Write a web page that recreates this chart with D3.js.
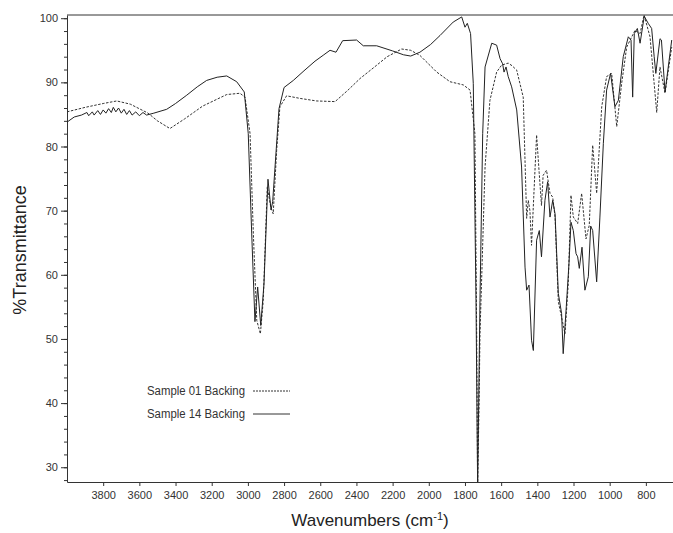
<!DOCTYPE html>
<head>
<script src="https://d3js.org/d3.v7.min.js"></script>
<meta charset="utf-8">
<style>
body { margin: 0; background: #fff; }
svg { font-family: "Liberation Sans", Arial, sans-serif; }
.axis path, .axis line { stroke: #333; }
.axis text { fill: #333; font-size: 11px; }
</style>
</head>
<body>
<svg id="chart"></svg>
<script>

// spectra (wavenumber cm-1, %T)
var wn01 = [4000,3900,3800,3725,3650,3552,3500,3431,3350,3250,3117,3044,3016,2988,2970,2951,2931,2915,2893,2874,2860,2841,2823,2786,2712,2620,2518,2450,2380,2300,2230,2150,2100,2049,1956,1883,1809,1772,1745,1735,1730,1722,1717,1689,1662,1625,1597,1561,1540,1514,1478,1459,1450,1441,1432,1420,1404,1390,1377,1368,1349,1330,1315,1302,1284,1266,1247,1229,1214,1201,1177,1155,1131,1113,1094,1072,1044,1017,989,961,934,906,878,860,832,810,777,740,722,694,657];
var t01 = [85.4,86.1,86.7,87.1,86.6,85.2,84.0,82.8,84.3,86.3,88.1,88.3,87.7,82,66.5,52.9,50.8,56,73.7,70.6,69.5,79.4,86.2,87.9,87.5,87.1,87.0,88.7,90.6,92.4,94.0,95.2,95.0,94.2,91.6,90.1,89.6,88.8,82,50,27,40,50.8,76.8,87.2,91.6,92.7,93,92.6,91.9,87.7,68.8,71.6,70,64.6,72,81.8,76,70.8,75.5,76.3,72.7,72.1,69,55.8,53.4,50.8,58.6,72.4,69,68,72.7,65.6,67.7,80.2,72.7,86.2,90.9,91.4,83.1,89.8,95.5,97.1,98.1,97.6,100.5,97.1,85.3,92.4,88.3,95.5];

var wn14 = [4000,3960,3920,3890,3880,3860,3850,3830,3815,3800,3785,3770,3755,3744,3730,3715,3700,3685,3670,3655,3640,3620,3600,3580,3560,3520,3449,3400,3338,3280,3228,3170,3117,3062,3020,2998,2979,2961,2946,2929,2911,2889,2872,2863,2850,2828,2800,2749,2690,2629,2580,2546,2513,2476,2399,2362,2288,2200,2140,2100,2049,1990,1938,1865,1818,1800,1787,1769,1754,1739,1730,1717,1702,1689,1652,1625,1606,1592,1584,1573,1561,1542,1514,1487,1468,1459,1446,1432,1422,1404,1389,1377,1358,1343,1330,1315,1302,1284,1266,1257,1240,1225,1214,1201,1186,1177,1168,1153,1137,1118,1105,1094,1072,1054,1035,1017,995,971,952,925,897,882,873,864,847,832,809,787,768,754,745,722,714,694,657];
var t14 = [83.8,84.6,84.9,85.3,84.8,85.4,84.9,85.6,85.0,85.7,85.2,85.9,85.3,86.1,85.4,86.0,85.2,85.8,85.0,85.6,84.9,85.4,84.8,85.3,84.9,85.2,85.8,86.7,88,89.3,90.3,90.8,91,90.1,88.5,82,66.5,52.7,58.1,52.1,58.6,74.9,70.1,71.4,76.8,85.9,89.2,90.3,91.8,93.3,94.3,95,94.7,96.5,96.6,95.7,95.7,94.9,94.3,94.1,94.7,95.9,97.3,99.4,100.2,98.6,99.2,97.6,89.8,56,27,56,82,92.4,96.1,95.8,93.7,92.9,91.6,92.4,90.9,89.3,85.7,76.8,61.2,57.6,58.4,49.8,48.2,65.4,66.9,62.8,71.6,74.5,69,71.6,69.5,57.1,54,47.7,55,61.8,68.2,66.9,63.3,62.8,61,64.3,57.6,59.7,67.6,66.9,58.9,69,80.5,88.8,91.4,86.2,87.2,94,97.1,96.6,87.7,97.6,98.4,96.1,100.3,99.2,98.4,94,91.4,96.8,96.6,88.5,96.6];

var seriesNames = ["Sample 01 Backing", "Sample 14 Backing"];
var xTicks = d3.range(3800, 799, -200);
var yTicks = [30, 40, 50, 60, 70, 80, 90, 100];
var yMinor = d3.range(28, 101, 2);

var width = 673, height = 533;
var margin = {top: 15, right: 0, bottom: 51, left: 67};

var svg = d3.select("#chart").attr("width", width).attr("height", height);

var x = d3.scaleLinear().domain([4000, 650]).range([margin.left, width - margin.right]);
var y = d3.scaleLinear().domain([27.7, 100.5]).range([height - margin.bottom, margin.top]);

svg.append("clipPath").attr("id", "clip")
  .append("rect")
    .attr("x", margin.left).attr("y", margin.top)
    .attr("width", width - margin.left - margin.right)
    .attr("height", height - margin.top - margin.bottom);

// frame top
svg.append("line")
  .attr("x1", margin.left).attr("x2", width)
  .attr("y1", margin.top).attr("y2", margin.top)
  .attr("stroke", "#333");

// axes
svg.append("g").attr("class", "axis")
  .attr("transform", "translate(0," + (height - margin.bottom) + ")")
  .call(d3.axisBottom(x).tickValues(xTicks).tickSize(4).tickSizeOuter(0).tickFormat(d3.format("d")))
  .call(g => g.selectAll("text").attr("dy", "0.95em"));

svg.append("g").attr("class", "axis")
  .attr("transform", "translate(" + margin.left + ",0)")
  .call(d3.axisLeft(y).tickValues(yMinor).tickSize(3).tickSizeOuter(0).tickFormat(""));

svg.append("g").attr("class", "axis")
  .attr("transform", "translate(" + margin.left + ",0)")
  .call(d3.axisLeft(y).tickValues(yTicks).tickSize(6).tickSizeOuter(0))
  .call(g => g.select(".domain").remove());

// spectra
var line = d3.line().x(d => x(d[0])).y(d => y(d[1]));
var data01 = wn01.map((w, i) => [w, t01[i]]);
var data14 = wn14.map((w, i) => [w, t14[i]]);

var plot = svg.append("g").attr("clip-path", "url(#clip)");
plot.append("path").datum(data01)
  .attr("d", line).attr("fill", "none")
  .attr("stroke", "#333").attr("stroke-width", 1)
  .attr("stroke-dasharray", "2.5,1.5");
plot.append("path").datum(data14)
  .attr("d", line).attr("fill", "none")
  .attr("stroke", "#222").attr("stroke-width", 1);

// legend
var legend = svg.append("g").attr("font-size", 12);
seriesNames.forEach((name, i) => {
  var ly = 390 + i * 23;
  legend.append("text").attr("x", 147).attr("y", ly + 5).attr("fill", "#333")
    .attr("textLength", 98).attr("lengthAdjust", "spacingAndGlyphs").text(name);
  legend.append("line")
    .attr("x1", 253).attr("x2", 290).attr("y1", ly + 1).attr("y2", ly + 1)
    .attr("stroke", "#333").attr("stroke-width", 1)
    .attr("stroke-dasharray", i == 0 ? "2,1" : null);
});

// axis titles
var xt = svg.append("text")
  .attr("x", 370).attr("y", 526)
  .attr("text-anchor", "middle").attr("font-size", 17).attr("fill", "#222");
xt.append("tspan").text("Wavenumbers (cm");
xt.append("tspan").attr("font-size", 11).attr("dy", -6).text("-1");
xt.append("tspan").attr("dy", 6).text(")");

svg.append("text")
  .attr("transform", "translate(26,250) rotate(-90)")
  .attr("text-anchor", "middle").attr("font-size", 18).attr("fill", "#222")
  .text("%Transmittance");

</script>
</body>
